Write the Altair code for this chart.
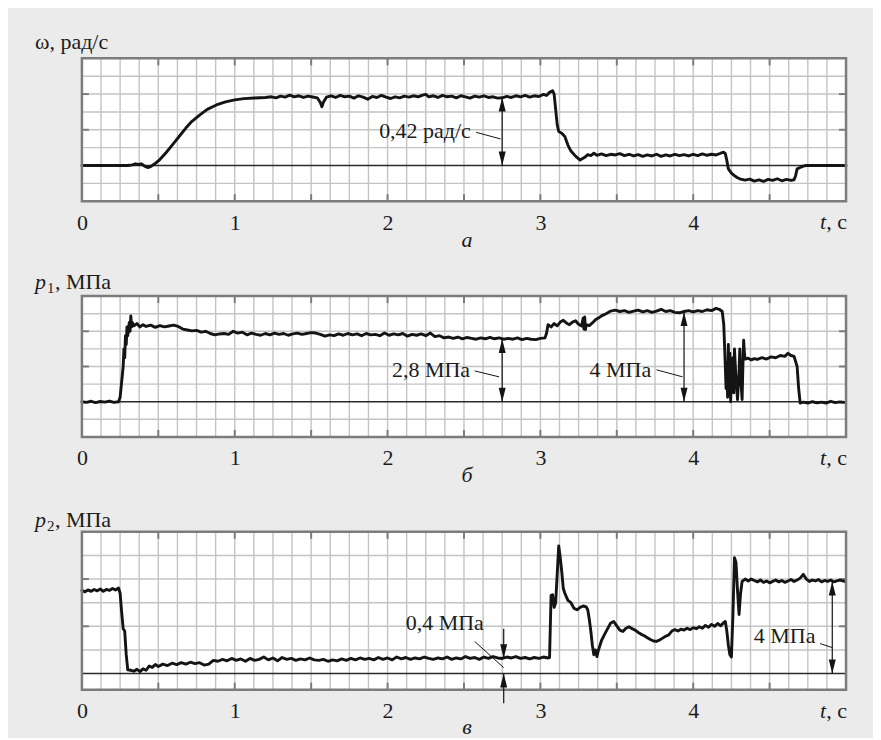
import math
import altair as alt
import pandas as pd

# ---------------- data ----------------
# panel a: angular velocity, rad/s
w_t = [0.00, 0.10, 0.20, 0.30, 0.33, 0.35, 0.37, 0.39, 0.41, 0.43,
       0.45, 0.48, 0.51, 0.55, 0.60, 0.64, 0.68, 0.72, 0.77, 0.82,
       0.88, 0.94, 1.00, 1.06, 1.13, 1.20, 1.24, 1.27, 1.30, 1.33,
       1.36, 1.39, 1.42, 1.45, 1.48, 1.51, 1.54, 1.56, 1.57, 1.58,
       1.60, 1.63, 1.66, 1.69, 1.72, 1.75, 1.78, 1.81, 1.84, 1.87,
       1.90, 1.93, 1.96, 1.99, 2.02, 2.05, 2.08, 2.11, 2.14, 2.17,
       2.20, 2.23, 2.25, 2.27, 2.30, 2.33, 2.36, 2.39, 2.42, 2.45,
       2.48, 2.51, 2.54, 2.57, 2.60, 2.63, 2.66, 2.69, 2.72, 2.75,
       2.78, 2.81, 2.84, 2.87, 2.90, 2.93, 2.96, 2.99, 3.02, 3.04,
       3.06, 3.08, 3.09, 3.10, 3.11, 3.12, 3.14, 3.16, 3.18, 3.20,
       3.23, 3.26, 3.29, 3.31, 3.33, 3.35, 3.37, 3.40, 3.43, 3.46,
       3.49, 3.52, 3.55, 3.58, 3.61, 3.64, 3.67, 3.70, 3.73, 3.76,
       3.79, 3.82, 3.85, 3.88, 3.91, 3.94, 3.97, 4.00, 4.03, 4.06,
       4.09, 4.12, 4.15, 4.18, 4.20, 4.21, 4.22, 4.23, 4.25, 4.27,
       4.29, 4.31, 4.34, 4.37, 4.40, 4.43, 4.46, 4.49, 4.52, 4.55,
       4.58, 4.61, 4.64, 4.66, 4.67, 4.68, 4.70, 4.72, 4.74, 4.80,
       4.90, 5.00]
w_v = [0.000, 0.000, 0.000, 0.000, 0.004, 0.010, 0.006, 0.010, -0.004, -0.012,
       -0.006, 0.012, 0.035, 0.075, 0.130, 0.175, 0.220, 0.260, 0.296, 0.330,
       0.356, 0.374, 0.386, 0.393, 0.397, 0.400, 0.404, 0.398, 0.408, 0.402,
       0.414, 0.404, 0.410, 0.400, 0.408, 0.403, 0.398, 0.370, 0.345, 0.372,
       0.402, 0.410, 0.400, 0.412, 0.404, 0.408, 0.396, 0.410, 0.402, 0.390,
       0.406, 0.400, 0.412, 0.402, 0.394, 0.404, 0.398, 0.408, 0.402, 0.410,
       0.404, 0.414, 0.418, 0.404, 0.410, 0.400, 0.412, 0.404, 0.408, 0.398,
       0.410, 0.404, 0.396, 0.408, 0.402, 0.410, 0.400, 0.404, 0.396, 0.398,
       0.406, 0.400, 0.410, 0.404, 0.412, 0.402, 0.410, 0.406, 0.418, 0.412,
       0.430, 0.440, 0.420, 0.330, 0.240, 0.200, 0.190, 0.170, 0.120, 0.085,
       0.055, 0.032, 0.048, 0.064, 0.058, 0.072, 0.060, 0.068, 0.058, 0.066,
       0.062, 0.070, 0.058, 0.066, 0.056, 0.064, 0.054, 0.062, 0.056, 0.066,
       0.054, 0.062, 0.056, 0.066, 0.058, 0.064, 0.056, 0.066, 0.058, 0.068,
       0.060, 0.066, 0.062, 0.072, 0.078, 0.070, 0.030, -0.020, -0.045, -0.060,
       -0.072, -0.080, -0.086, -0.080, -0.092, -0.084, -0.094, -0.082, -0.088, -0.078,
       -0.090, -0.082, -0.088, -0.084, -0.060, -0.020, -0.012, -0.004, 0.000, 0.000,
       0.000, 0.000]

# panel b: pressure p1, MPa
p1_t = [0.00, 0.03, 0.06, 0.09, 0.12, 0.15, 0.18, 0.21, 0.24, 0.25,
        0.26, 0.27, 0.275, 0.28, 0.285, 0.29, 0.295, 0.30, 0.31, 0.315,
        0.32, 0.325, 0.33, 0.34, 0.36, 0.38, 0.40, 0.42, 0.45, 0.48,
        0.51, 0.54, 0.57, 0.60, 0.63, 0.66, 0.69, 0.72, 0.75, 0.78,
        0.81, 0.84, 0.87, 0.90, 0.93, 0.96, 0.99, 1.02, 1.05, 1.08,
        1.11, 1.14, 1.17, 1.20, 1.23, 1.26, 1.29, 1.32, 1.35, 1.38,
        1.41, 1.44, 1.47, 1.50, 1.53, 1.56, 1.59, 1.62, 1.65, 1.68,
        1.71, 1.74, 1.77, 1.80, 1.83, 1.86, 1.89, 1.92, 1.95, 1.98,
        2.01, 2.04, 2.07, 2.10, 2.13, 2.16, 2.19, 2.22, 2.25, 2.28,
        2.31, 2.34, 2.37, 2.40, 2.43, 2.46, 2.49, 2.52, 2.55, 2.58,
        2.61, 2.64, 2.67, 2.70, 2.73, 2.76, 2.79, 2.82, 2.85, 2.88,
        2.91, 2.94, 2.97, 3.00, 3.03, 3.04, 3.05, 3.07, 3.09, 3.11,
        3.13, 3.15, 3.17, 3.19, 3.21, 3.23, 3.25, 3.27, 3.28, 3.285,
        3.29, 3.295, 3.30, 3.32, 3.34, 3.36, 3.38, 3.40, 3.43, 3.46,
        3.49, 3.52, 3.55, 3.58, 3.61, 3.64, 3.67, 3.70, 3.73, 3.76,
        3.79, 3.82, 3.85, 3.88, 3.91, 3.94, 3.97, 4.00, 4.03, 4.06,
        4.09, 4.12, 4.15, 4.17, 4.19, 4.20, 4.205, 4.21, 4.215, 4.22,
        4.225, 4.23, 4.235, 4.24, 4.245, 4.25, 4.26, 4.265, 4.27, 4.28,
        4.29, 4.30, 4.305, 4.31, 4.32, 4.325, 4.33, 4.335, 4.34, 4.36,
        4.38, 4.40, 4.42, 4.45, 4.48, 4.51, 4.54, 4.57, 4.60, 4.62,
        4.64, 4.66, 4.68, 4.69, 4.70, 4.72, 4.75, 4.78, 4.81, 4.84,
        4.87, 4.90, 4.93, 4.96, 4.99]
p1_v = [0.00, -0.03, 0.02, -0.04, 0.01, -0.02, 0.03, -0.03, 0.00, 0.20,
        0.90, 1.60, 2.40, 2.00, 3.00, 2.60, 3.40, 3.00, 3.60, 3.20,
        3.90, 3.40, 3.60, 3.45, 3.55, 3.40, 3.50, 3.42, 3.48, 3.38,
        3.46, 3.40, 3.44, 3.48, 3.42, 3.30, 3.26, 3.22, 3.24, 3.16,
        3.20, 3.10, 3.04, 3.08, 3.10, 3.06, 3.20, 3.12, 3.16, 3.04,
        3.12, 3.06, 3.02, 3.10, 3.04, 3.12, 3.06, 3.10, 3.02, 3.08,
        3.12, 3.06, 3.10, 3.14, 3.12, 3.06, 2.98, 3.04, 3.00, 3.08,
        3.02, 3.10, 3.04, 3.08, 3.00, 3.10, 3.04, 3.06, 3.00, 3.12,
        3.02, 3.08, 3.04, 3.10, 2.98, 3.06, 3.02, 3.08, 3.00, 3.12,
        2.96, 3.00, 2.90, 2.94, 2.88, 2.94, 2.86, 2.92, 2.88, 2.84,
        2.90, 2.86, 2.92, 2.86, 2.90, 2.84, 2.88, 2.84, 2.90, 2.82,
        2.88, 2.84, 2.82, 2.88, 2.90, 3.10, 3.50, 3.40, 3.55, 3.45,
        3.62, 3.70, 3.58, 3.50, 3.62, 3.68, 3.52, 3.44, 3.80, 3.30,
        3.85, 3.28, 3.50, 3.46, 3.58, 3.72, 3.80, 3.90, 4.00, 4.12,
        4.16, 4.10, 4.14, 4.06, 4.12, 4.16, 4.08, 4.14, 4.06, 4.12,
        4.20, 4.10, 4.14, 4.06, 4.04, 4.10, 4.14, 4.08, 4.14, 4.10,
        4.18, 4.14, 4.24, 4.20, 4.10, 3.50, 2.60, 1.60, 0.60, 1.80,
        0.20, 2.60, 0.30, 2.20, 0.00, 1.40, 2.00, 0.40, 2.40, 1.00,
        0.10, 1.40, 2.40, 1.20, 0.10, 1.60, 2.80, 2.20, 1.94, 1.98,
        1.90, 1.96, 1.92, 2.00, 1.94, 2.04, 2.00, 2.10, 2.06, 2.20,
        2.10, 2.06, 1.60, 0.60, -0.06, -0.02, -0.06, 0.00, -0.05, -0.02,
        -0.06, 0.02, -0.04, -0.01, -0.03]

# panel c: pressure p2, MPa
p2_t = [0.00, 0.02, 0.04, 0.06, 0.08, 0.10, 0.12, 0.14, 0.16, 0.18,
        0.20, 0.22, 0.24, 0.25, 0.26, 0.27, 0.28, 0.29, 0.30, 0.32,
        0.34, 0.36, 0.38, 0.40, 0.42, 0.44, 0.46, 0.48, 0.50, 0.53,
        0.56, 0.59, 0.62, 0.65, 0.68, 0.71, 0.74, 0.77, 0.80, 0.83,
        0.86, 0.89, 0.92, 0.95, 0.98, 1.01, 1.04, 1.07, 1.10, 1.13,
        1.16, 1.19, 1.22, 1.25, 1.28, 1.31, 1.34, 1.37, 1.40, 1.43,
        1.46, 1.49, 1.52, 1.55, 1.58, 1.61, 1.64, 1.67, 1.70, 1.73,
        1.76, 1.79, 1.82, 1.85, 1.88, 1.91, 1.94, 1.97, 2.00, 2.03,
        2.06, 2.09, 2.12, 2.15, 2.18, 2.21, 2.24, 2.27, 2.30, 2.33,
        2.36, 2.39, 2.42, 2.45, 2.48, 2.51, 2.54, 2.57, 2.60, 2.63,
        2.66, 2.69, 2.72, 2.75, 2.78, 2.81, 2.84, 2.87, 2.90, 2.93,
        2.96, 2.99, 3.02, 3.05, 3.06, 3.07, 3.08, 3.09, 3.10, 3.11,
        3.12, 3.13, 3.14, 3.15, 3.16, 3.18, 3.20, 3.22, 3.24, 3.26,
        3.28, 3.30, 3.31, 3.32, 3.33, 3.34, 3.35, 3.36, 3.37, 3.38,
        3.40, 3.42, 3.44, 3.46, 3.48, 3.50, 3.52, 3.54, 3.56, 3.58,
        3.60, 3.62, 3.64, 3.66, 3.68, 3.70, 3.72, 3.74, 3.76, 3.78,
        3.80, 3.82, 3.84, 3.86, 3.88, 3.90, 3.92, 3.94, 3.96, 3.98,
        4.00, 4.02, 4.04, 4.06, 4.08, 4.10, 4.12, 4.14, 4.16, 4.18,
        4.20, 4.21, 4.22, 4.23, 4.24, 4.25, 4.26, 4.27, 4.28, 4.29,
        4.30, 4.31, 4.32, 4.34, 4.36, 4.38, 4.40, 4.42, 4.44, 4.46,
        4.48, 4.50, 4.52, 4.54, 4.56, 4.58, 4.60, 4.62, 4.64, 4.66,
        4.68, 4.70, 4.72, 4.74, 4.76, 4.78, 4.80, 4.82, 4.84, 4.86,
        4.88, 4.90, 4.92, 4.94, 4.96, 4.99]
p2_v = [3.52, 3.46, 3.54, 3.48, 3.56, 3.50, 3.58, 3.48, 3.56, 3.52,
        3.60, 3.54, 3.62, 3.40, 2.60, 1.90, 1.80, 0.80, 0.16, 0.14,
        0.10, 0.18, 0.08, 0.20, 0.14, 0.32, 0.26, 0.38, 0.30, 0.40,
        0.34, 0.44, 0.38, 0.46, 0.40, 0.48, 0.42, 0.46, 0.36, 0.40,
        0.56, 0.52, 0.60, 0.54, 0.64, 0.56, 0.62, 0.52, 0.64, 0.56,
        0.60, 0.70, 0.58, 0.66, 0.54, 0.68, 0.60, 0.64, 0.56, 0.62,
        0.58, 0.66, 0.58, 0.56, 0.60, 0.52, 0.58, 0.54, 0.62, 0.56,
        0.64, 0.58, 0.66, 0.60, 0.64, 0.58, 0.68, 0.60, 0.66, 0.58,
        0.70, 0.62, 0.68, 0.60, 0.66, 0.62, 0.70, 0.64, 0.60, 0.66,
        0.62, 0.70, 0.60, 0.66, 0.62, 0.72, 0.64, 0.68, 0.60, 0.70,
        0.64, 0.72, 0.66, 0.64, 0.70, 0.66, 0.72, 0.64, 0.68, 0.62,
        0.68, 0.64, 0.70, 0.66, 0.68, 3.30, 3.34, 2.80, 3.00, 4.20,
        5.40, 4.90, 4.30, 3.60, 3.40, 3.10, 3.00, 2.76, 2.70, 2.80,
        2.86, 2.82, 2.70, 2.30, 1.80, 1.20, 0.80, 1.00, 0.72, 1.00,
        1.40, 1.66, 1.90, 2.14, 2.20, 2.02, 1.84, 1.78, 1.92, 1.98,
        1.90, 1.84, 1.74, 1.66, 1.60, 1.52, 1.44, 1.38, 1.36, 1.42,
        1.50, 1.58, 1.64, 1.80, 1.86, 1.80, 1.88, 1.84, 1.92, 1.86,
        1.94, 1.90, 1.98, 1.92, 2.04, 1.96, 2.08, 2.00, 2.12, 2.02,
        2.16, 2.20, 1.80, 1.20, 0.80, 0.70, 2.50, 4.90, 4.70, 3.50,
        2.50, 3.40, 3.90, 4.00, 3.92, 4.00, 3.94, 3.88, 3.96, 3.86,
        3.92, 3.84, 3.90, 3.96, 3.88, 3.94, 3.86, 3.92, 3.98, 3.90,
        3.96, 4.04, 4.20, 4.00, 3.90, 3.96, 3.92, 3.98, 3.88, 3.94,
        3.90, 3.96, 3.88, 3.92, 3.96, 3.90]

# axis tick / grid positions (seconds)
x_grid = [round(i * 0.125, 3) for i in range(1, 40)]
x_major = [0.5, 1.0, 1.5, 2.0, 2.5, 3.0, 3.5, 4.0, 4.5]
x_labels = [0, 1, 2, 3, 4]

# annotation data: (t, value)
a_shaft_t, a_shaft_v, a_shaft_v2 = [2.75], [0.0], [0.40]
a_up_t, a_up_v = [2.75], [0.40]
a_dn_t, a_dn_v = [2.75], [0.0]
a_lead = dict(t=[2.58], v=[0.195], t2=[2.74], v2=[0.156])
a_note = dict(t=[2.545], v=[0.205], s=["0,42 рад/с"])

b_shaft_t, b_shaft_v, b_shaft_v2 = [2.75, 3.94], [0.0, 0.0], [2.85, 4.08]
b_up_t, b_up_v = [2.75, 3.94], [2.85, 4.08]
b_dn_t, b_dn_v = [2.75, 3.94], [0.0, 0.0]
b_lead = dict(t=[2.57, 3.76], v=[1.40, 1.45], t2=[2.73, 3.93], v2=[1.13, 1.13])
b_note = dict(t=[2.54, 3.725], v=[1.45, 1.45], s=["2,8 МПа", "4 МПа"])

c_shaft_t, c_shaft_v, c_shaft_v2 = [2.76, 2.76, 4.91], [1.90, -1.26, 0.0], [0.65, 0.0, 3.90]
c_up_t, c_up_v = [2.76, 4.91], [0.0, 3.90]
c_dn_t, c_dn_v = [2.76, 4.91], [0.65, 0.0]
c_lead = dict(t=[2.57, 4.83], v=[1.36, 1.27], t2=[2.76, 4.91], v2=[0.25, 1.10])
c_note = dict(t=[2.63, 4.80], v=[2.16, 1.57], s=["0,4 МПа", "4 МПа"])

# ---------------- style ----------------
W = 765
FS = 22
SERIF = "Liberation Serif"
INK = "#141414"
TXT = "#1c1c1c"
GRID = "#c4c4c4"
BORDER = "#7c7c7c"
BG = "#ebebeb"
UP = "M0,0L0.5,2L-0.5,2Z"
DOWN = "M0,0L0.5,-2L-0.5,-2Z"
LABEL_EXPR = ("abs(datum.value - round(datum.value)) < 0.01 && datum.value < 4.5 "
              "? '' + round(datum.value) : ''")
TICK_PX = 7


def txt(s, x, y, size=FS, style="normal", align="left", baseline="alphabetic"):
    return alt.Chart(pd.DataFrame({"s": [s]})).mark_text(
        font=SERIF, fontSize=size, fontStyle=style, align=align,
        baseline=baseline, color=TXT
    ).encode(x=alt.value(x), y=alt.value(y), text="s:N")


def panel(ct, cv, ydom, ystep, yticks, H, title, letter, letter_y,
          sh_t, sh_v, sh_v2, up_t, up_v, dn_t, dn_v, lead, note):
    k0 = math.ceil(ydom[0] / ystep - 1e-6)
    k1 = math.floor(ydom[1] / ystep + 1e-6)
    ygrid = [round(k * ystep, 4) for k in range(k0, k1 + 1)
             if ydom[0] + 1e-6 < k * ystep < ydom[1] - 1e-6 and k != 0]
    xs = alt.Scale(domain=[0, 5], nice=False, zero=False)
    ys = alt.Scale(domain=ydom, nice=False, zero=False)
    xaxis = alt.Axis(values=x_labels, grid=False, ticks=False, tickSize=0,
                     domain=False, labelExpr=LABEL_EXPR, labelFont=SERIF,
                     labelFontSize=FS, labelColor=TXT, labelPadding=11,
                     labelFlush=False, labelOverlap=False, title=None)
    yaxis = alt.Axis(grid=False, ticks=False, labels=False, domain=False,
                     title=None)

    def X(f="t"):
        return alt.X(f + ":Q", scale=xs, axis=xaxis)

    def Y(f="v"):
        return alt.Y(f + ":Q", scale=ys, axis=yaxis)

    kx = 5.0 * TICK_PX / W
    ky = (ydom[1] - ydom[0]) * TICK_PX / H

    vgrid = alt.Chart(pd.DataFrame({"t": x_grid})).mark_rule(
        color=GRID, strokeWidth=1.4).encode(x=X())
    hgrid = alt.Chart(pd.DataFrame({"v": ygrid})).mark_rule(
        color=GRID, strokeWidth=1.4).encode(y=Y())

    base = alt.Chart(pd.DataFrame({"v": [0.0]})).mark_rule(
        color="#2a2a2a", strokeWidth=1.4).encode(y=Y())

    tick_df = pd.DataFrame({
        "t": x_major * 2 + [0.0] * len(yticks) + [5.0] * len(yticks),
        "t2": x_major * 2 + [kx] * len(yticks) + [5.0 - kx] * len(yticks),
        "v": [ydom[1]] * len(x_major) + [ydom[0]] * len(x_major) + yticks * 2,
        "v2": [ydom[1] - ky] * len(x_major) + [ydom[0] + ky] * len(x_major) + yticks * 2,
    })
    ticks = alt.Chart(tick_df).mark_rule(color=BORDER, strokeWidth=2).encode(
        x=X(), x2="t2:Q", y=Y(), y2="v2:Q")

    curve = alt.Chart(pd.DataFrame({"t": ct, "v": cv})).mark_line(
        color=INK, strokeWidth=2.9, strokeJoin="round", strokeCap="round"
    ).encode(x=X(), y=Y())

    frame = alt.Chart(pd.DataFrame({"s": [""]})).mark_rect(
        filled=False, stroke=BORDER, strokeWidth=2.5
    ).encode(x=alt.value(0), x2=alt.value(W), y=alt.value(0), y2=alt.value(H))

    shafts = alt.Chart(pd.DataFrame({"t": sh_t, "v": sh_v, "v2": sh_v2})).mark_rule(
        color=INK, strokeWidth=1.2).encode(x=X(), y=Y(), y2="v2:Q")
    ups = alt.Chart(pd.DataFrame({"t": up_t, "v": up_v})).mark_point(
        shape=UP, filled=True, size=196, opacity=1, color=INK, strokeWidth=0
    ).encode(x=X(), y=Y())
    dns = alt.Chart(pd.DataFrame({"t": dn_t, "v": dn_v})).mark_point(
        shape=DOWN, filled=True, size=196, opacity=1, color=INK, strokeWidth=0
    ).encode(x=X(), y=Y())
    leads = alt.Chart(pd.DataFrame(lead)).mark_rule(
        color=INK, strokeWidth=1.0).encode(x=X(), y=Y(), x2="t2:Q", y2="v2:Q")
    notes = alt.Chart(pd.DataFrame(note)).mark_text(
        font=SERIF, fontSize=FS, align="right", baseline="middle", color=TXT
    ).encode(x=X(), y=Y(), text="s:N")

    unit = txt(", с", W + 1, H + 11, baseline="top", align="right")
    tvar = txt("t", W - 20, H + 11, style="italic", baseline="top", align="right")
    let = txt(letter, W / 2 + 3, H + letter_y, style="italic", align="center")

    layers = [vgrid, hgrid, base, ticks, curve, frame, shafts, ups, dns, leads,
              notes, unit, tvar, let] + title
    return alt.layer(*layers).properties(width=W, height=H)


HA, HB, HC = 143, 141, 158

title_a = [txt("ω, рад/с", -47, -9)]
title_b = [txt("p", -47, -7, style="italic"), txt("1", -35, -3, size=15),
           txt(", МПа", -27, -7)]
title_c = [txt("p", -47, -5, style="italic"), txt("2", -35, -1, size=15),
           txt(", МПа", -27, -5)]

pa = panel(w_t, w_v, [-0.21, 0.63], 0.105, [0.21, 0.42], HA, title_a, "а", 46,
           a_shaft_t, a_shaft_v, a_shaft_v2, a_up_t, a_up_v, a_dn_t, a_dn_v,
           a_lead, a_note)
pb = panel(p1_t, p1_v, [-1.6, 4.8], 0.8, [1.6, 3.2], HB, title_b, "б", 45,
           b_shaft_t, b_shaft_v, b_shaft_v2, b_up_t, b_up_v, b_dn_t, b_dn_v,
           b_lead, b_note)
pc = panel(p2_t, p2_v, [-0.68, 6.0], 1.0, [2.0, 4.0], HC, title_c, "в", 44,
           c_shaft_t, c_shaft_v, c_shaft_v2, c_up_t, c_up_v, c_dn_t, c_dn_v,
           c_lead, c_note)

chart = alt.vconcat(pa, pb, pc, spacing=95, bounds="flush").properties(
    background=BG,
    padding={"left": 27, "top": 23, "right": 25, "bottom": 0},
).configure_view(strokeWidth=0, fill="white")

chart.save("out.html", embed_options={"renderer": "svg", "actions": False})
